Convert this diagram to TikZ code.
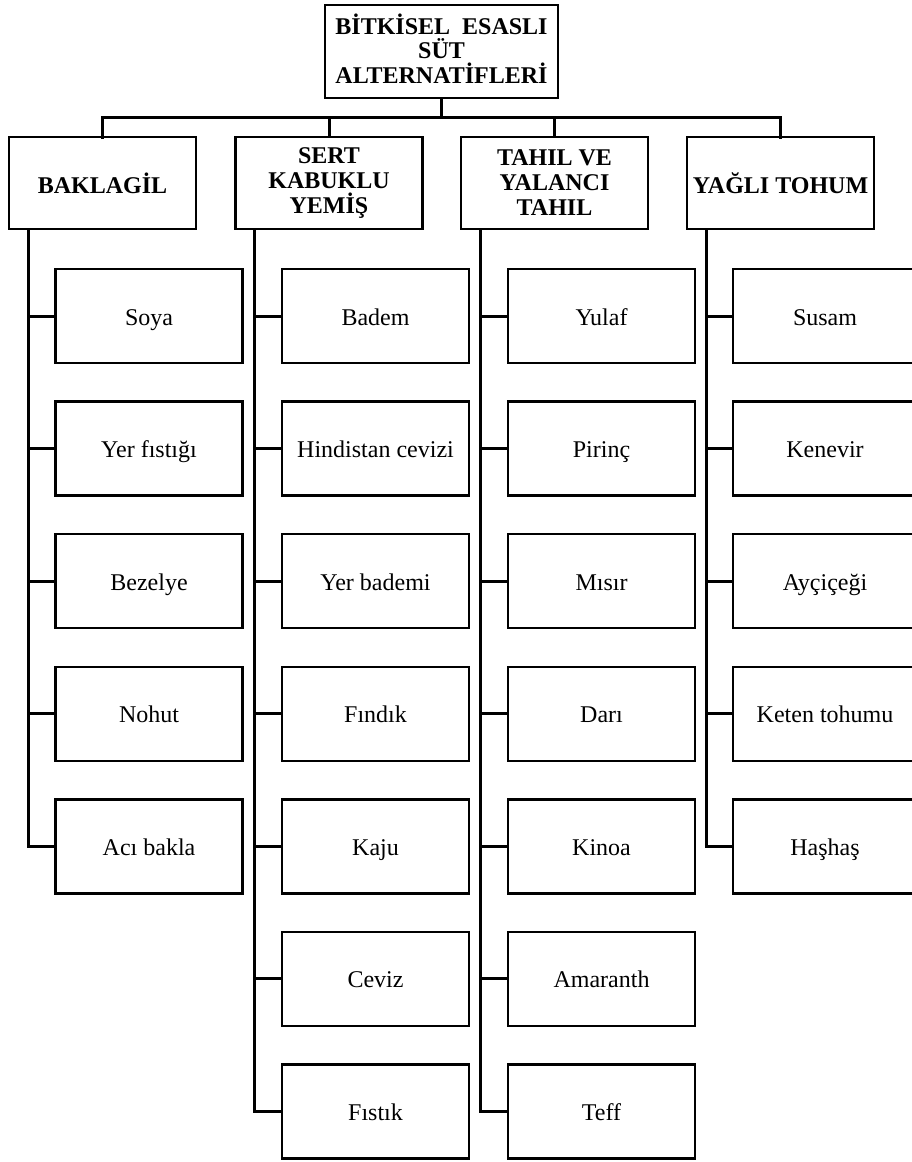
\documentclass[tikz,border=0pt]{standalone}
\usepackage{fontspec}
\setmainfont{Liberation Serif}
\begin{document}
\begin{tikzpicture}[x=1pt,y=-1pt,
  every node/.style={inner sep=0pt, outer sep=0pt},
  topbox/.style={draw, line width=2.6pt, minimum width=233pt, minimum height=93pt, align=center,
    font=\fontsize{24}{24.5}\selectfont\bfseries},
  catbox/.style={draw, line width=2.6pt, minimum width=187pt, minimum height=92pt, align=center,
    font=\fontsize{24}{25}\selectfont\bfseries},
  itembox/.style={draw, line width=2.4pt, minimum width=187pt, minimum height=94pt,
    text height=22pt, text depth=4pt,
    font=\fontsize{24}{28}\selectfont},
  conn/.style={line width=3pt, line cap=butt}]
\clip (0,0) rectangle (912,1162);
\fill[white] (0,0) rectangle (912,1162);

% title
\node[topbox] (top) at (441.5,51.5) {BİTKİSEL\ \ ESASLI\\SÜT\\ALTERNATİFLERİ\rule[-6pt]{0pt}{6pt}};

% categories
\node[catbox] (c1) at (102.5,183) {BAKLAGİL};
\node[catbox] (c2) at (329,183) {SERT\\KABUKLU\\YEMİŞ};
\node[catbox] (c3) at (554.5,183) {TAHIL VE\\YALANCI\\TAHIL};
\node[catbox] (c4) at (780.5,183) {YAĞLI TOHUM};

\coordinate (bar) at (441.5,117);
\draw[conn] (top.south) -- (bar);
\draw[conn, line cap=rect] (c1.north) -- (c1.north |- bar) -- (c4.north |- bar) -- (c4.north);
\draw[conn] (c2.north) -- (c2.north |- bar);
\draw[conn] (c3.north) -- (c3.north |- bar);

% trunks
\coordinate (t1) at (28,229);
\coordinate (t2) at (254,229);
\coordinate (t3) at (480,229);
\coordinate (t4) at (706,229);

% items: BAKLAGİL
\node[itembox] (a1) at (149,316) {Soya};
\node[itembox] (a2) at (149,448.6) {Yer fıstığı};
\node[itembox] (a3) at (149,581.2) {Bezelye};
\node[itembox] (a4) at (149,713.8) {Nohut};
\node[itembox] (a5) at (149,846.3) {Acı bakla};

% items: SERT KABUKLU YEMİŞ
\node[itembox] (b1) at (375.5,316) {Badem};
\node[itembox] (b2) at (375.5,448.6) {Hindistan cevizi};
\node[itembox] (b3) at (375.5,581.2) {Yer bademi};
\node[itembox] (b4) at (375.5,713.8) {Fındık};
\node[itembox] (b5) at (375.5,846.3) {Kaju};
\node[itembox] (b6) at (375.5,978.9) {Ceviz};
\node[itembox] (b7) at (375.5,1111.5) {Fıstık};

% items: TAHIL
\node[itembox] (d1) at (601.5,316) {Yulaf};
\node[itembox] (d2) at (601.5,448.6) {Pirinç};
\node[itembox] (d3) at (601.5,581.2) {Mısır};
\node[itembox] (d4) at (601.5,713.8) {Darı};
\node[itembox] (d5) at (601.5,846.3) {Kinoa};
\node[itembox] (d6) at (601.5,978.9) {Amaranth};
\node[itembox] (d7) at (601.5,1111.5) {Teff};

% items: YAĞLI TOHUM
\node[itembox, minimum width=190pt] (e1) at (828,316) {\hspace*{-6pt}Susam};
\node[itembox, minimum width=190pt] (e2) at (828,448.6) {\hspace*{-6pt}Kenevir};
\node[itembox, minimum width=190pt] (e3) at (828,581.2) {\hspace*{-6pt}Ayçiçeği};
\node[itembox, minimum width=190pt] (e4) at (828,713.8) {\hspace*{-6pt}Keten tohumu};
\node[itembox, minimum width=190pt] (e5) at (828,846.3) {\hspace*{-6pt}Haşhaş};

% connectors
\draw[conn] (t1) |- (a5.west);
\foreach \n in {a1,a2,a3,a4} \draw[conn] (t1 |- \n.west) -- (\n.west);
\draw[conn] (t2) |- (b7.west);
\foreach \n in {b1,b2,b3,b4,b5,b6} \draw[conn] (t2 |- \n.west) -- (\n.west);
\draw[conn] (t3) |- (d7.west);
\foreach \n in {d1,d2,d3,d4,d5,d6} \draw[conn] (t3 |- \n.west) -- (\n.west);
\draw[conn] (t4) |- (e5.west);
\foreach \n in {e1,e2,e3,e4} \draw[conn] (t4 |- \n.west) -- (\n.west);
\end{tikzpicture}
\end{document}
